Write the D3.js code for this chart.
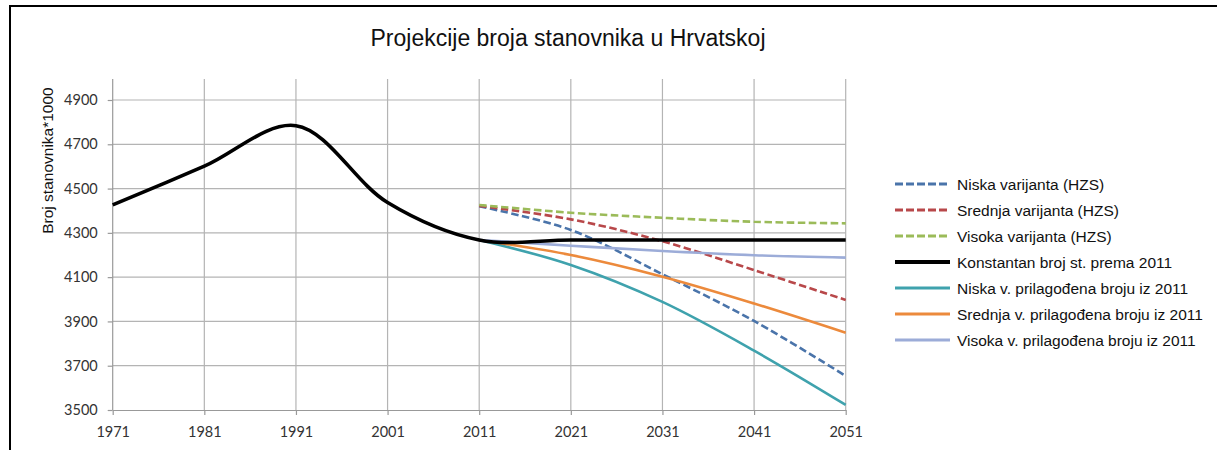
<!DOCTYPE html>
<html>
<head>
<meta charset="utf-8">
<script src="https://cdn.jsdelivr.net/npm/d3@7"></script>
<style>
  html, body { margin: 0; padding: 0; background: #fff; }
  svg { display: block; }
  .tick text { font-family: Lato, "DejaVu Sans", sans-serif; font-size: 14.5px; fill: #333; }
  .label { font-family: "Liberation Sans", Arial, sans-serif; fill: #111; }
</style>
</head>
<body>
<svg id="chart" width="1217" height="450"></svg>
<script>
// Census years and projection years
const years = [1971, 1981, 1991, 2001, 2011, 2021, 2031, 2041, 2051];
const projYears = [2011, 2021, 2031, 2041, 2051];
const yTicks = [3500, 3700, 3900, 4100, 4300, 4500, 4700, 4900];

// Population in thousands: census counts, then held constant at the 2011 level
const konstantan = [4426, 4601, 4784, 4437, 4268, 4268, 4268, 4268, 4268];

// HZS projection variants
const niskaHZS   = [4420, 4313, 4113, 3902, 3654];
const srednjaHZS = [4422, 4361, 4262, 4132, 3997];
const visokaHZS  = [4426, 4391, 4368, 4350, 4343];

// Variants adjusted to the 2011 count
const niskaAdj   = [4268, 4155, 3988, 3768, 3523];
const srednjaAdj = [4268, 4200, 4102, 3981, 3849];
const visokaAdj  = [4268, 4242, 4218, 4199, 4188];

const seriesNames = [
  "Niska varijanta (HZS)",
  "Srednja varijanta (HZS)",
  "Visoka varijanta (HZS)",
  "Konstantan broj st. prema 2011",
  "Niska v. prilagođena broju iz 2011",
  "Srednja v. prilagođena broju iz 2011",
  "Visoka v. prilagođena broju iz 2011"
];

const series = [
  { name: seriesNames[0], xs: projYears, vals: niskaHZS,   color: "#4a74aa", width: 2.6, dash: "7.5,3.5" },
  { name: seriesNames[1], xs: projYears, vals: srednjaHZS, color: "#b8484a", width: 2.6, dash: "7.5,3.5" },
  { name: seriesNames[2], xs: projYears, vals: visokaHZS,  color: "#9bbb59", width: 2.6, dash: "7.5,3.5" },
  { name: seriesNames[3], xs: years,     vals: konstantan, color: "#000000", width: 3.6, dash: null },
  { name: seriesNames[4], xs: projYears, vals: niskaAdj,   color: "#3fa2ad", width: 2.6, dash: null },
  { name: seriesNames[5], xs: projYears, vals: srednjaAdj, color: "#ec8a3c", width: 2.6, dash: null },
  { name: seriesNames[6], xs: projYears, vals: visokaAdj,  color: "#9cacd8", width: 2.6, dash: null }
];

const svg = d3.select("#chart");

// Plot area
const plotLeft = 112.7, plotRight = 845.7, plotTop = 79, plotBottom = 410;
const x = d3.scaleLinear().domain([1971, 2051]).range([plotLeft, plotRight]);
const y = d3.scaleLinear().domain([3500, 4900]).range([plotBottom, 100]);

// Outer frame (top and left edges)
svg.append("line").attr("x1", 9).attr("x2", 1217).attr("y1", 6).attr("y2", 6)
  .attr("stroke", "#000").attr("stroke-width", 2);
svg.append("line").attr("x1", 10).attr("x2", 10).attr("y1", 5).attr("y2", 450)
  .attr("stroke", "#000").attr("stroke-width", 2);

// Title
svg.append("text").attr("class", "label")
  .attr("x", 568).attr("y", 46).attr("text-anchor", "middle")
  .style("font-size", "23px")
  .text("Projekcije broja stanovnika u Hrvatskoj");

// Grid
const grid = svg.append("g").attr("stroke", "#b4b4b4").attr("stroke-width", 1.2);
grid.selectAll("line.h").data(yTicks.filter(d => d > 3500)).join("line")
  .attr("x1", plotLeft).attr("x2", plotRight)
  .attr("y1", d => y(d)).attr("y2", d => y(d));
grid.selectAll("line.v").data(years.slice(1)).join("line")
  .attr("x1", d => x(d)).attr("x2", d => x(d))
  .attr("y1", plotTop).attr("y2", plotBottom);

// Axes
const xAxis = svg.append("g").attr("transform", `translate(0,${plotBottom})`)
  .call(d3.axisBottom(x).tickValues(years).tickFormat(d3.format("d")).tickSize(5).tickSizeOuter(0));
const yAxis = svg.append("g").attr("transform", `translate(${plotLeft},0)`)
  .call(d3.axisLeft(y).tickValues(yTicks).tickFormat(d3.format("d")).tickSize(5).tickSizeOuter(0));
[xAxis, yAxis].forEach(a => {
  a.select(".domain").attr("stroke", "#999").attr("stroke-width", 1.2);
  a.selectAll(".tick line").attr("stroke", "#999").attr("stroke-width", 1.2);
});
yAxis.select(".domain").attr("d", `M0,${plotBottom}V${plotTop}`);
xAxis.selectAll(".tick text").attr("dy", "1.05em").attr("y", 12);
yAxis.selectAll(".tick text").attr("x", -15);

// Y axis title
svg.append("text").attr("class", "label")
  .attr("transform", "translate(53,160.5) rotate(-90)")
  .attr("text-anchor", "middle")
  .style("font-size", "15.5px")
  .text("Broj stanovnika*1000");

// Series lines
const line = d3.line().curve(d3.curveCatmullRom.alpha(0.5));
const drawOrder = [0, 1, 2, 4, 5, 6, 3];
drawOrder.forEach(i => {
  const s = series[i];
  svg.append("path")
    .attr("d", line(s.xs.map((yr, k) => [x(yr), y(s.vals[k])])))
    .attr("fill", "none")
    .attr("stroke", s.color)
    .attr("stroke-width", s.width)
    .attr("stroke-dasharray", s.dash)
    .attr("stroke-linejoin", "round");
});

// Legend
const legend = svg.append("g");
const rowY = d3.scaleLinear().domain([0, 6]).range([184, 340]);
series.forEach((s, i) => {
  const g = legend.append("g").attr("transform", `translate(0,${rowY(i)})`);
  g.append("line").attr("x1", 895).attr("x2", 950).attr("y1", 0).attr("y2", 0)
    .attr("stroke", s.color).attr("stroke-width", s.width + 0.4)
    .attr("stroke-dasharray", s.dash ? "8,3" : null);
  g.append("text").attr("class", "label")
    .attr("x", 957).attr("y", 5.5)
    .style("font-size", "15.5px")
    .text(s.name);
});
</script>
</body>
</html>
